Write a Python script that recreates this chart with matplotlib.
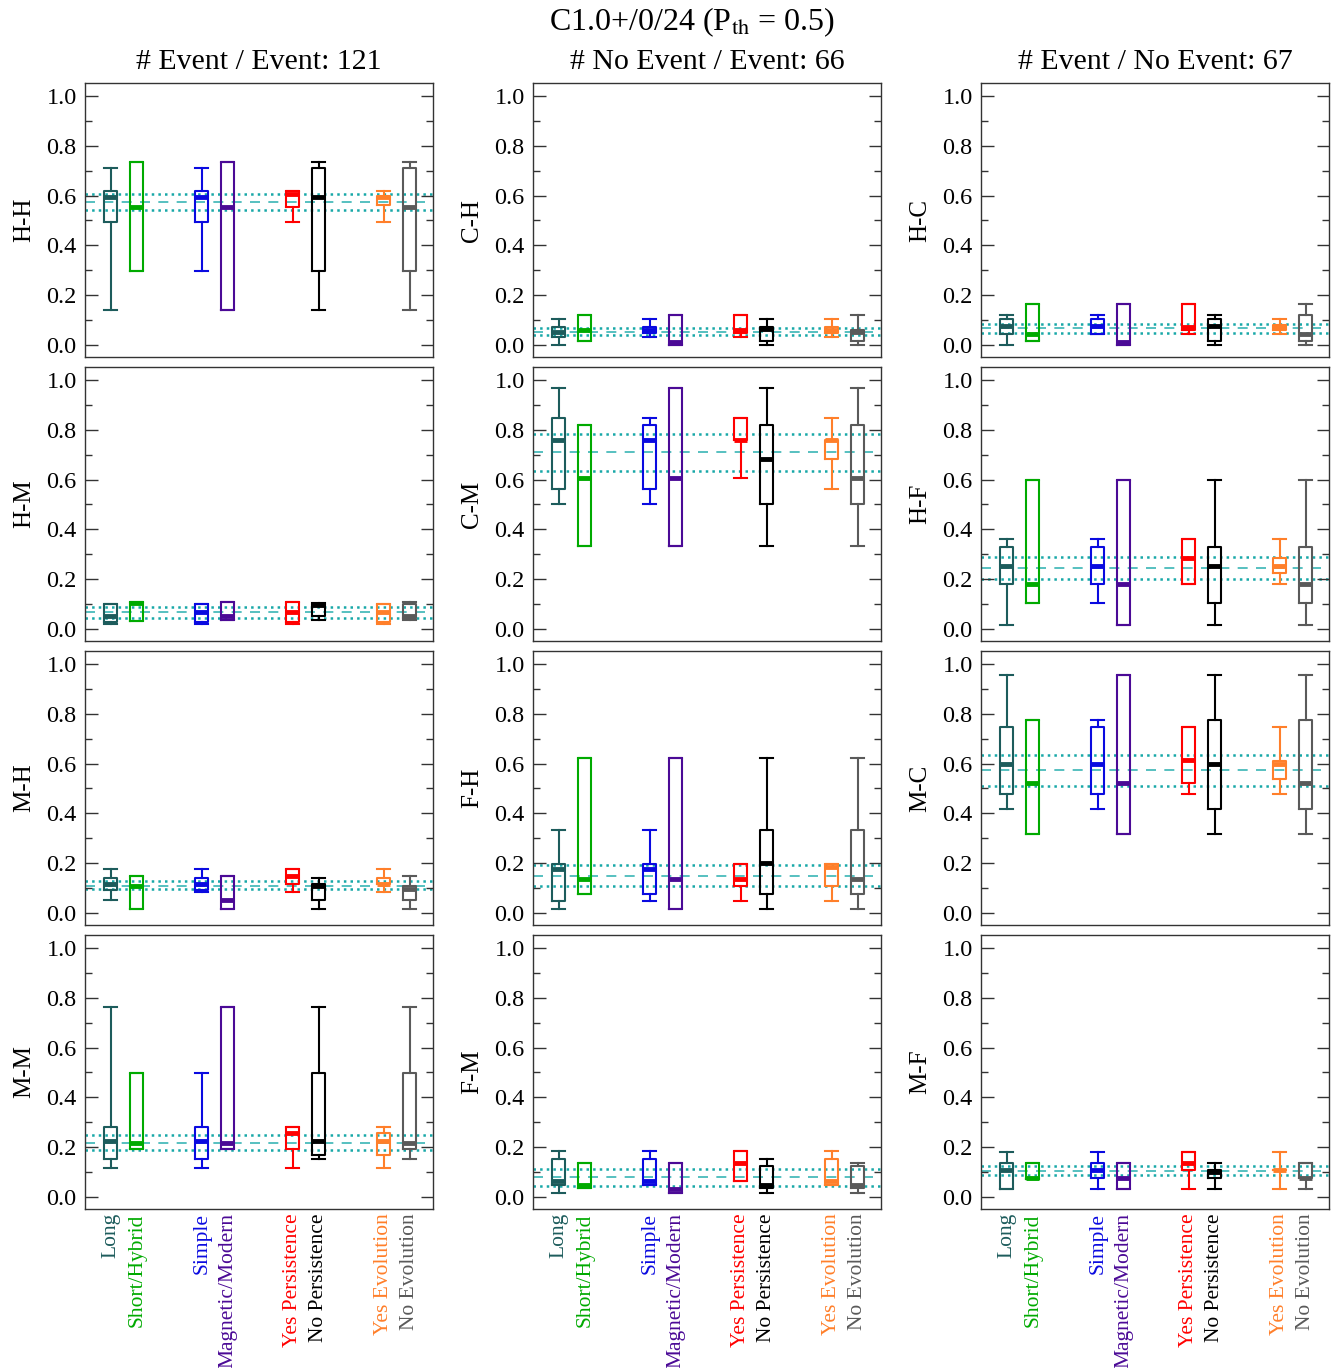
import numpy as np
import matplotlib.pyplot as plt
from matplotlib.ticker import MultipleLocator, FormatStrFormatter

plt.rcParams['font.family'] = ['Liberation Serif', 'DejaVu Serif']
plt.rcParams['mathtext.fontset'] = 'stix'

# categories and colours
categories = ['Long', 'Short/Hybrid', 'Simple', 'Magnetic/Modern',
              'Yes Persistence', 'No Persistence', 'Yes Evolution', 'No Evolution']
colors = ['#1d5c5c', '#00aa00', '#0a0ae0', '#4b0a96',
          '#ff0000', '#000000', '#ff7f2a', '#5a5a5a']

col_titles = ['# Event / Event: 121', '# No Event / Event: 66', '# Event / No Event: 67']
row_labels = [['H-H', 'H-M', 'M-H', 'M-M'],
              ['C-H', 'C-M', 'F-H', 'F-M'],
              ['H-C', 'H-F', 'M-C', 'M-F']]

# box stats per panel: (whislo, q1, med, q3, whishi) for each category
HH = [(0.14, 0.495, 0.595, 0.619, 0.71), (0.298, 0.298, 0.555, 0.735, 0.735),
      (0.298, 0.495, 0.595, 0.619, 0.71), (0.14, 0.14, 0.555, 0.735, 0.735),
      (0.495, 0.553, 0.606, 0.619, 0.619), (0.14, 0.298, 0.595, 0.71, 0.735),
      (0.495, 0.561, 0.595, 0.60, 0.619), (0.14, 0.298, 0.555, 0.71, 0.735)]
HM = [(0.019, 0.029, 0.052, 0.10, 0.10), (0.032, 0.032, 0.105, 0.108, 0.108),
      (0.019, 0.029, 0.068, 0.10, 0.10), (0.035, 0.035, 0.052, 0.108, 0.108),
      (0.019, 0.029, 0.068, 0.108, 0.108), (0.035, 0.053, 0.097, 0.10, 0.105),
      (0.019, 0.029, 0.068, 0.10, 0.10), (0.035, 0.043, 0.052, 0.10, 0.108)]
MH = [(0.052, 0.092, 0.118, 0.14, 0.175), (0.017, 0.017, 0.11, 0.15, 0.15),
      (0.084, 0.092, 0.118, 0.14, 0.175), (0.017, 0.017, 0.052, 0.15, 0.15),
      (0.084, 0.118, 0.15, 0.175, 0.175), (0.017, 0.052, 0.11, 0.118, 0.14),
      (0.084, 0.118, 0.118, 0.14, 0.175), (0.017, 0.052, 0.095, 0.107, 0.15)]
MM = [(0.118, 0.152, 0.226, 0.281, 0.762), (0.194, 0.194, 0.218, 0.499, 0.499),
      (0.118, 0.152, 0.226, 0.281, 0.499), (0.194, 0.194, 0.215, 0.762, 0.762),
      (0.118, 0.194, 0.258, 0.281, 0.281), (0.152, 0.168, 0.226, 0.499, 0.762),
      (0.118, 0.168, 0.226, 0.258, 0.281), (0.152, 0.194, 0.218, 0.499, 0.762)]
CH = [(0.0, 0.033, 0.051, 0.074, 0.106), (0.016, 0.016, 0.061, 0.122, 0.122),
      (0.031, 0.047, 0.061, 0.074, 0.106), (0.0, 0.0, 0.013, 0.122, 0.122),
      (0.031, 0.047, 0.061, 0.122, 0.122), (0.0, 0.016, 0.064, 0.074, 0.106),
      (0.031, 0.047, 0.061, 0.074, 0.106), (0.0, 0.016, 0.051, 0.06, 0.122)]
CM = [(0.501, 0.561, 0.758, 0.848, 0.968), (0.334, 0.334, 0.607, 0.818, 0.818),
      (0.501, 0.561, 0.758, 0.818, 0.848), (0.334, 0.334, 0.607, 0.968, 0.968),
      (0.607, 0.758, 0.758, 0.848, 0.848), (0.334, 0.501, 0.684, 0.818, 0.968),
      (0.561, 0.684, 0.758, 0.758, 0.848), (0.334, 0.501, 0.607, 0.818, 0.968)]
FH = [(0.017, 0.048, 0.178, 0.198, 0.333), (0.078, 0.078, 0.138, 0.622, 0.622),
      (0.048, 0.078, 0.178, 0.198, 0.333), (0.017, 0.017, 0.138, 0.622, 0.622),
      (0.048, 0.107, 0.138, 0.198, 0.198), (0.017, 0.078, 0.202, 0.333, 0.622),
      (0.048, 0.107, 0.184, 0.198, 0.198), (0.017, 0.078, 0.138, 0.333, 0.622)]
FM = [(0.017, 0.049, 0.063, 0.152, 0.183), (0.035, 0.035, 0.049, 0.138, 0.138),
      (0.049, 0.049, 0.063, 0.152, 0.183), (0.017, 0.017, 0.032, 0.138, 0.138),
      (0.063, 0.063, 0.138, 0.183, 0.183), (0.017, 0.035, 0.049, 0.123, 0.152),
      (0.049, 0.049, 0.063, 0.152, 0.183), (0.017, 0.035, 0.049, 0.123, 0.138)]
HC = [(0.0, 0.044, 0.076, 0.103, 0.122), (0.016, 0.016, 0.044, 0.166, 0.166),
      (0.044, 0.044, 0.076, 0.103, 0.122), (0.0, 0.0, 0.013, 0.166, 0.166),
      (0.044, 0.06, 0.074, 0.166, 0.166), (0.0, 0.016, 0.076, 0.103, 0.122),
      (0.044, 0.06, 0.071, 0.08, 0.106), (0.0, 0.016, 0.044, 0.119, 0.166)]
HF = [(0.017, 0.18, 0.255, 0.329, 0.36), (0.106, 0.106, 0.18, 0.598, 0.598),
      (0.106, 0.18, 0.255, 0.329, 0.36), (0.017, 0.017, 0.18, 0.598, 0.598),
      (0.18, 0.18, 0.285, 0.36, 0.36), (0.017, 0.106, 0.255, 0.329, 0.598),
      (0.18, 0.225, 0.255, 0.285, 0.36), (0.017, 0.106, 0.18, 0.329, 0.598)]
MC = [(0.418, 0.477, 0.598, 0.746, 0.956), (0.316, 0.316, 0.523, 0.775, 0.775),
      (0.418, 0.477, 0.598, 0.746, 0.775), (0.316, 0.316, 0.523, 0.956, 0.956),
      (0.477, 0.523, 0.614, 0.746, 0.746), (0.316, 0.418, 0.598, 0.775, 0.956),
      (0.477, 0.54, 0.599, 0.612, 0.746), (0.316, 0.418, 0.523, 0.775, 0.956)]
MF = [(0.032, 0.032, 0.107, 0.135, 0.18), (0.074, 0.074, 0.078, 0.135, 0.135),
      (0.032, 0.078, 0.107, 0.135, 0.18), (0.032, 0.032, 0.078, 0.135, 0.135),
      (0.032, 0.107, 0.135, 0.18, 0.18), (0.032, 0.078, 0.102, 0.107, 0.135),
      (0.032, 0.107, 0.107, 0.107, 0.18), (0.032, 0.078, 0.078, 0.135, 0.135)]

# reference lines per panel: (lower dotted, dashed, upper dotted)
HH_ref = (0.541, 0.573, 0.606)
HM_ref = (0.045, 0.068, 0.090)
MH_ref = (0.095, 0.110, 0.127)
MM_ref = (0.189, 0.218, 0.249)
CH_ref = (0.041, 0.053, 0.067)
CM_ref = (0.634, 0.709, 0.782)
FH_ref = (0.107, 0.150, 0.191)
FM_ref = (0.045, 0.079, 0.112)
HC_ref = (0.049, 0.067, 0.086)
HF_ref = (0.199, 0.245, 0.289)
MC_ref = (0.511, 0.575, 0.636)
MF_ref = (0.088, 0.103, 0.123)

panels = [[(HH, HH_ref), (HM, HM_ref), (MH, MH_ref), (MM, MM_ref)],
          [(CH, CH_ref), (CM, CM_ref), (FH, FH_ref), (FM, FM_ref)],
          [(HC, HC_ref), (HF, HF_ref), (MC, MC_ref), (MF, MF_ref)]]

positions = [g * 3.5 + k for g in range(4) for k in range(2)]

W, H = 1334, 1368
fig = plt.figure(figsize=(W / 100, H / 100), dpi=100)
lefts = [85, 533, 981]
tops = [83, 367, 651, 935]
aw, ah = 348, 274

for c in range(3):
    for r in range(4):
        data, ref = panels[c][r]
        ax = fig.add_axes([lefts[c] / W, 1 - (tops[r] + ah) / H, aw / W, ah / H])
        stats = [dict(whislo=s[0], q1=s[1], med=s[2], q3=s[3], whishi=s[4], fliers=[])
                 for s in data]
        art = ax.bxp(stats, positions=positions, widths=0.5, capwidths=0.5,
                     showfliers=False, manage_ticks=False)
        for i, col in enumerate(colors):
            art['boxes'][i].set(color=col, lw=1.5)
            art['medians'][i].set(color=col, lw=3.5, solid_capstyle='butt')
            for a in art['whiskers'][2 * i:2 * i + 2] + art['caps'][2 * i:2 * i + 2]:
                a.set(color=col, lw=1.5)
        ax.axhline(ref[1], color='#3ab5b5', lw=1.2, ls=(0, (6, 5)), zorder=0.5)
        for v in (ref[0], ref[2]):
            ax.axhline(v, color='#18a8a8', lw=1.8, ls=':', zorder=0.5)

        ax.set_xlim(-1.0, 12.4)
        ax.set_ylim(-0.048, 1.052)
        ax.yaxis.set_major_locator(MultipleLocator(0.2))
        ax.yaxis.set_minor_locator(MultipleLocator(0.1))
        ax.yaxis.set_major_formatter(FormatStrFormatter('%.1f'))
        ax.yaxis.set_ticks_position('both')
        ax.tick_params(axis='y', which='major', direction='in', length=9, width=1,
                       color='#333333', labelsize=17.5, pad=6)
        ax.tick_params(axis='y', which='minor', direction='in', length=5, width=1,
                       color='#333333')
        ax.tick_params(axis='x', length=0, pad=3)
        ax.set_xticks(positions)
        if r == 3:
            ax.set_xticklabels(categories, rotation=90, fontsize=15.5)
            for lab, col in zip(ax.get_xticklabels(), colors):
                lab.set_color(col)
        else:
            ax.set_xticklabels([])
        for sp in ax.spines.values():
            sp.set_color('#333333')
            sp.set_linewidth(1.0)
        ax.set_ylabel(row_labels[c][r], fontsize=18, labelpad=8)

    fig.text((lefts[c] + aw / 2) / W, 1 - 62 / H, col_titles[c], ha='center',
             va='center', fontsize=21.5)

fig.text(692 / W, 1 - 22 / H, r'C1.0+/0/24 (P$_{\mathrm{th}}$ = 0.5)', ha='center',
         va='center', fontsize=23)

fig.savefig('out.png', dpi=100)
